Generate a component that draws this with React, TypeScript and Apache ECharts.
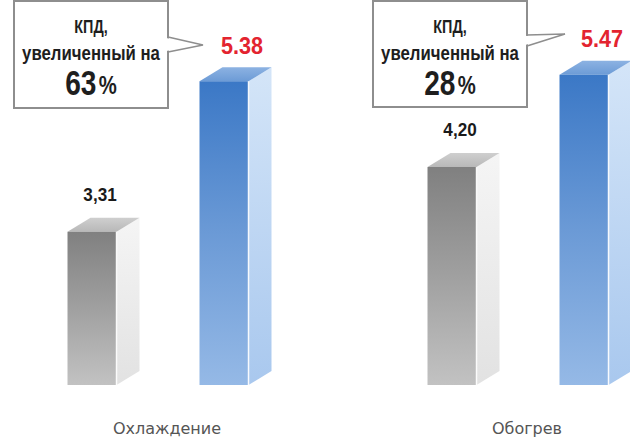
import React, { useEffect, useRef } from "react";
import * as echarts from "echarts";

// ---- data ----
const categories = ["Охлаждение", "Обогрев"];
const baseValues = [3.31, 4.2];
const improvedValues = [5.38, 5.47];
const gainPercent = ["63", "28"];
const calloutLine1 = "КПД,";
const calloutLine2 = "увеличенный на";

// ---- layout / style ----
const Y_MIN = 1.2;
const Y_MAX = 6.5;
const X_MIN = -0.4639;
const X_MAX = 1.2861;
const FRONT_W = 49;
const DX = 23;
const DY = -14;
const BOLD = '"Liberation Sans", Arial, sans-serif';

const boxLayout = [
  { x: 14, y: 1, w: 154, h: 107, tail: [[168, 37], [203, 45], [168, 52]] },
  { x: 373, y: 1, w: 154, h: 106, tail: [[527, 35], [565, 34], [527, 46]] },
];

const grad = (stops: [number, string][]) =>
  new echarts.graphic.LinearGradient(0, 0, 0, 1, stops.map(([offset, color]) => ({ offset, color })));

type Palette = { front: any; side: any; top: any };

function makeRender(offset: number, palette: Palette, labelDx: number, labelDy: number,
  fontSize: number, color: string, scaleX: number, fmt: (v: number) => string) {
  return (params: any, api: any) => {
    const idx = api.value(0);
    const val = api.value(1);
    const top = api.coord([idx, val]);
    const base = api.coord([idx, Y_MIN]);
    const xl = top[0] + offset - FRONT_W / 2;
    const xr = xl + FRONT_W;
    const yt = top[1];
    const yb = base[1];
    return {
      type: "group",
      children: [
        {
          type: "polygon",
          shape: { points: [[xr, yt], [xr + DX, yt + DY], [xr + DX, yb + DY], [xr, yb]] },
          style: { fill: palette.side },
        },
        {
          type: "polygon",
          shape: { points: [[xl, yt], [xr, yt], [xr + DX, yt + DY], [xl + DX, yt + DY]] },
          style: { fill: palette.top },
        },
        {
          type: "rect",
          shape: { x: xl, y: yt, width: FRONT_W, height: yb - yt },
          style: { fill: palette.front },
        },
        {
          type: "line",
          shape: { x1: xr, y1: yt, x2: xr, y2: yb },
          style: { stroke: "rgba(255,255,255,0.9)", lineWidth: 1.5 },
        },
        {
          type: "text",
          x: xl + FRONT_W / 2 + labelDx,
          y: yt - labelDy,
          scaleX,
          style: {
            text: fmt(val),
            align: "center",
            verticalAlign: "middle",
            fontSize,
            fontWeight: "bold",
            fontFamily: BOLD,
            fill: color,
          },
        },
      ],
    };
  };
}

function renderCategory(params: any, api: any) {
  const idx = api.value(0);
  const p = api.coord([idx, Y_MIN]);
  return {
    type: "text",
    x: p[0],
    y: p[1] + 43,
    style: {
      text: categories[idx],
      align: "center",
      verticalAlign: "middle",
      fontSize: 16,
      fontFamily: '"DejaVu Sans", sans-serif',
      fill: "#555",
    },
  };
}

export default function App() {
  const ref = useRef<HTMLDivElement>(null);

  useEffect(() => {
    document.body.style.margin = "0";
    if (!ref.current) return;
    const chart = echarts.init(ref.current, undefined, { renderer: "svg" });

    const grayPalette: Palette = {
      front: grad([[0, "#808080"], [0.5, "#a0a0a0"], [1, "#c2c2c2"]]),
      side: grad([[0, "#f5f5f5"], [1, "#e2e2e2"]]),
      top: grad([[0, "#cfcfcf"], [1, "#b8b8b8"]]),
    };
    const bluePalette: Palette = {
      front: grad([[0, "#3b78c6"], [0.5, "#6b9ad6"], [1, "#95b9e6"]]),
      side: grad([[0, "#d4e5f8"], [1, "#a9c8ee"]]),
      top: grad([[0, "#8cb2e2"], [1, "#6c9bd6"]]),
    };

    const graphic: any[] = [];
    boxLayout.forEach((b, i) => {
      const cx = b.x + b.w / 2;
      graphic.push(
        {
          type: "rect",
          shape: { x: b.x, y: b.y, width: b.w, height: b.h },
          style: { fill: "#fff", stroke: "#8e8e8e", lineWidth: 2 },
        },
        {
          type: "polygon",
          shape: { points: [[b.tail[0][0] - 2, b.tail[0][1] + 1], b.tail[1], [b.tail[2][0] - 2, b.tail[2][1] - 1]] },
          style: { fill: "#fff", stroke: "none" },
        },
        {
          type: "polyline",
          shape: { points: b.tail },
          style: { stroke: "#8e8e8e", lineWidth: 1.5, fill: "none" },
        },
        {
          type: "text",
          x: cx,
          y: b.y + 25,
          scaleX: 0.8,
          style: {
            text: calloutLine1, align: "center", verticalAlign: "middle",
            fontSize: 18, fontWeight: "bold", fontFamily: BOLD, fill: "#1e1e1e",
          },
        },
        {
          type: "text",
          x: cx,
          y: b.y + 52,
          scaleX: 0.8,
          style: {
            text: calloutLine2, align: "center", verticalAlign: "middle",
            fontSize: 21, fontWeight: "bold", fontFamily: BOLD, fill: "#1e1e1e",
          },
        },
        {
          type: "text",
          x: cx,
          y: b.y + 82,
          scaleX: 0.78,
          style: {
            text: "{a|" + gainPercent[i] + "}{b|%}",
            align: "center",
            verticalAlign: "middle",
            rich: {
              a: { fontSize: 36, fontWeight: "bold", fontFamily: BOLD, fill: "#1e1e1e" },
              b: { fontSize: 26, fontWeight: "bold", fontFamily: BOLD, fill: "#1e1e1e", padding: [4, 0, 0, 3] },
            },
          },
        }
      );
    });

    chart.setOption({
      animation: false,
      backgroundColor: "#ffffff",
      grid: { left: 0, right: 0, top: 0, bottom: 53 },
      xAxis: { type: "value", min: X_MIN, max: X_MAX, show: false, splitLine: { show: false } },
      yAxis: { type: "value", min: Y_MIN, max: Y_MAX, show: false, splitLine: { show: false } },
      series: [
        {
          type: "custom",
          name: "categories",
          data: categories.map((c, i) => [i, Y_MIN]),
          encode: { x: 0, y: 1 },
          renderItem: renderCategory,
        },
        {
          type: "custom",
          name: "base",
          data: baseValues.map((v, i) => [i, v]),
          encode: { x: 0, y: 1 },
          renderItem: makeRender(-75, grayPalette, 8, 37, 19, "#1a1a1a", 0.9, (v) => v.toFixed(2).replace(".", ",")),
        },
        {
          type: "custom",
          name: "improved",
          data: improvedValues.map((v, i) => [i, v]),
          encode: { x: 0, y: 1 },
          renderItem: makeRender(57, bluePalette, 18, 36, 24, "#e3242f", 0.9, (v) => v.toFixed(2)),
        },
      ],
      graphic,
    });

    return () => chart.dispose();
  }, []);

  return <div ref={ref} style={{ width: 630, height: 438 }} />;
}
